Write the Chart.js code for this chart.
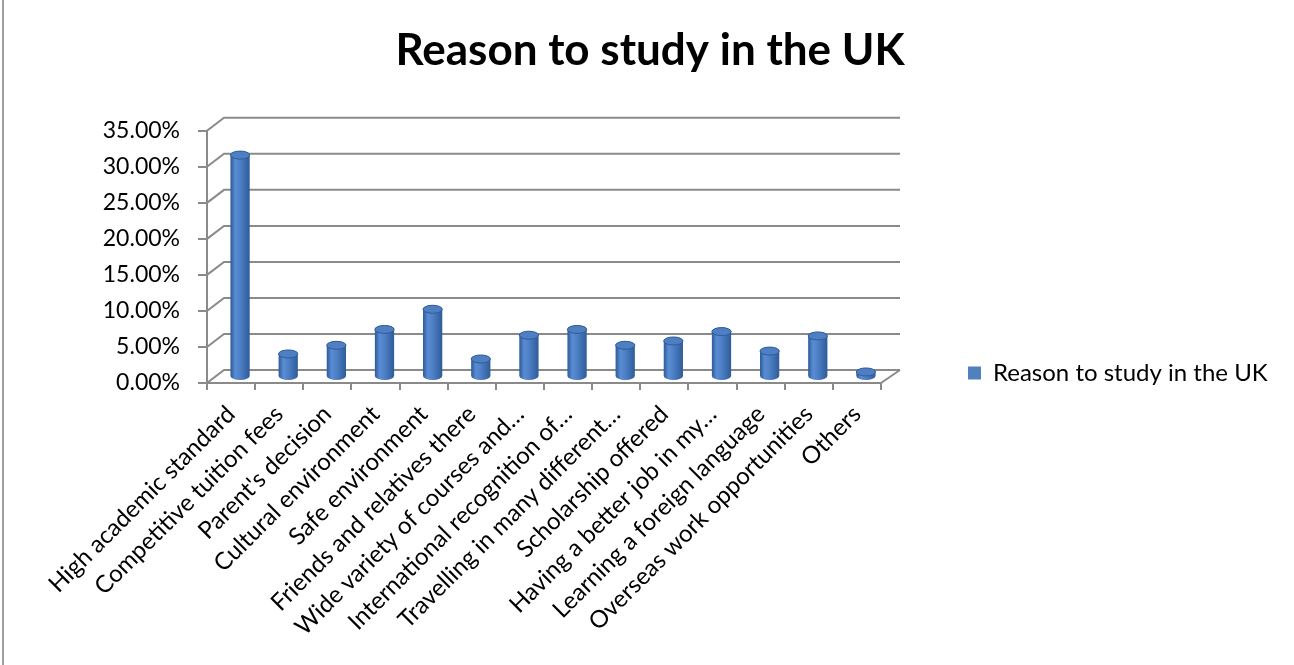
<!DOCTYPE html>
<html>
<head>
<meta charset="utf-8">
<script src="https://cdn.jsdelivr.net/npm/chart.js@4.4.0/dist/chart.umd.min.js"></script>
<style>
    html, body { margin: 0; padding: 0; background: #fff; }
    #wrap { position: relative; width: 1294px; height: 665px; }
    #wrap::before { content: ''; position: absolute; left: 2px; top: 0; bottom: 0; width: 2px; background: #a0a0a0; }
    canvas { display: block; }
</style>
</head>
<body>
<div id="wrap"><canvas id="chart" width="1294" height="665"></canvas></div>
<script>
const categories = [
    'High academic standard',
    'Competitive tuition fees',
    "Parent's decision",
    'Cultural environment',
    'Safe environment',
    'Friends and relatives there',
    'Wide variety of courses and…',
    'International recognition of…',
    'Travelling in many different…',
    'Scholarship offered',
    'Having a better job in my…',
    'Learning a foreign language',
    'Overseas work opportunities',
    'Others'
];
const shares = [0.308, 0.032, 0.044, 0.066, 0.094, 0.025, 0.058, 0.066, 0.044, 0.050, 0.063, 0.036, 0.057, 0.007];
const yTicks = [0, 0.05, 0.10, 0.15, 0.20, 0.25, 0.30, 0.35];
const seriesName = 'Reason to study in the UK';

const FONT = "Lato, 'Open Sans', sans-serif";
const GRID = '#8a8a8a';
// depth of the fake 3D walls, and half of it for the cylinders
const DX = 17, DY = -13;
const BAR_DX = 9, BAR_DY = -6;
// where the legend sits (Excel puts it well away from the plot)
const LEGEND_LEFT = 958, LEGEND_BOTTOM = 395;

// draws the back wall, side wall and the cylinders instead of flat bars
const fake3d = {
    id: 'fake3d',
    afterLayout(chart) {
        // the big right padding only makes room for the plot; title stays centred on the page
        const t = chart.titleBlock;
        t.left = 0;
        t.right = chart.width + 6;
        t.width = t.right;

        const lg = chart.legend;
        lg.left = LEGEND_LEFT;
        lg.right = chart.width;
        lg.width = lg.right - lg.left;
        lg.bottom = LEGEND_BOTTOM;
    },
    beforeDatasetsDraw(chart) {
        const { ctx, chartArea: a, scales: { y } } = chart;
        ctx.save();
        ctx.strokeStyle = GRID;
        ctx.lineWidth = 2;
        yTicks.forEach(v => {
            const py = y.getPixelForValue(v);
            ctx.beginPath();
            ctx.moveTo(a.left, py);
            ctx.lineTo(a.left + DX, py + DY);
            ctx.lineTo(a.right + DX + 2, py + DY);
            ctx.stroke();
        });
        ctx.beginPath();
        ctx.moveTo(a.right, a.bottom);
        ctx.lineTo(a.right + DX + 2, a.bottom + DY);
        ctx.stroke();

        chart.getDatasetMeta(0).data.forEach(bar => {
            const { x, y: top0, base, width } = bar.getProps(['x', 'y', 'base', 'width'], true);
            const cx = x + BAR_DX;
            const top = top0 + BAR_DY;
            const bottom = base + BAR_DY;
            const rx = width / 2, ry = 4;
            const left = cx - rx;

            const g = ctx.createLinearGradient(left, 0, left + width, 0);
            g.addColorStop(0, '#2d5a96');
            g.addColorStop(0.25, '#5a8cd4');
            g.addColorStop(0.5, '#4d80c6');
            g.addColorStop(1, '#2f5c99');

            ctx.beginPath();
            ctx.moveTo(left, top);
            ctx.lineTo(left, bottom);
            ctx.ellipse(cx, bottom, rx, ry, 0, Math.PI, 0, true);
            ctx.lineTo(left + width, top);
            ctx.ellipse(cx, top, rx, ry, 0, 0, Math.PI, true);
            ctx.closePath();
            ctx.fillStyle = g;
            ctx.fill();

            ctx.beginPath();
            ctx.ellipse(cx, top, rx, ry, 0, 0, Math.PI * 2);
            ctx.fillStyle = '#4f7fc2';
            ctx.fill();
            ctx.lineWidth = 1;
            ctx.strokeStyle = '#2f5d9a';
            ctx.stroke();
        });
        ctx.restore();
        return false;
    }
};

const canvas = document.getElementById('chart');
new Chart(canvas.getContext('2d'), {
    type: 'bar',
    data: {
        labels: categories,
        datasets: [{
            label: seriesName,
            data: shares,
            backgroundColor: '#4f81bd',
            categoryPercentage: 0.5,
            barPercentage: 0.8
        }]
    },
    options: {
        responsive: false,
        animation: false,
        devicePixelRatio: 1,
        layout: { padding: { left: 0, right: 213, top: 24, bottom: 0 } },
        plugins: {
            title: {
                display: true,
                text: seriesName,
                color: '#000',
                font: { family: FONT, size: 44, weight: 'bold' },
                padding: { top: 0, bottom: 54 }
            },
            legend: {
                position: 'right',
                align: 'end',
                maxWidth: 200,
                labels: {
                    boxWidth: 13,
                    boxHeight: 13,
                    padding: 10,
                    color: '#000',
                    font: { family: FONT, size: 24 }
                }
            },
            tooltip: { enabled: false }
        },
        scales: {
            x: {
                grid: { drawOnChartArea: false, tickLength: 7, color: GRID, lineWidth: 2 },
                border: { color: GRID, width: 2 },
                ticks: {
                    autoSkip: false, maxRotation: 45, minRotation: 45, padding: 10,
                    color: '#000', font: { family: FONT, size: 24 }
                },
                afterFit(s) { s.height = 282; }
            },
            y: {
                min: 0,
                max: 0.35,
                afterBuildTicks(s) { s.ticks = yTicks.map(v => ({ value: v })); },
                grid: { drawOnChartArea: false, tickLength: 9, color: GRID, lineWidth: 2 },
                border: { color: GRID, width: 2 },
                ticks: {
                    padding: 18,
                    color: '#000',
                    font: { family: FONT, size: 23 },
                    callback: v => (v * 100).toFixed(2) + '%'
                },
                afterFit(s) { s.width = 207; }
            }
        }
    },
    plugins: [fake3d]
});
</script>
</body>
</html>
